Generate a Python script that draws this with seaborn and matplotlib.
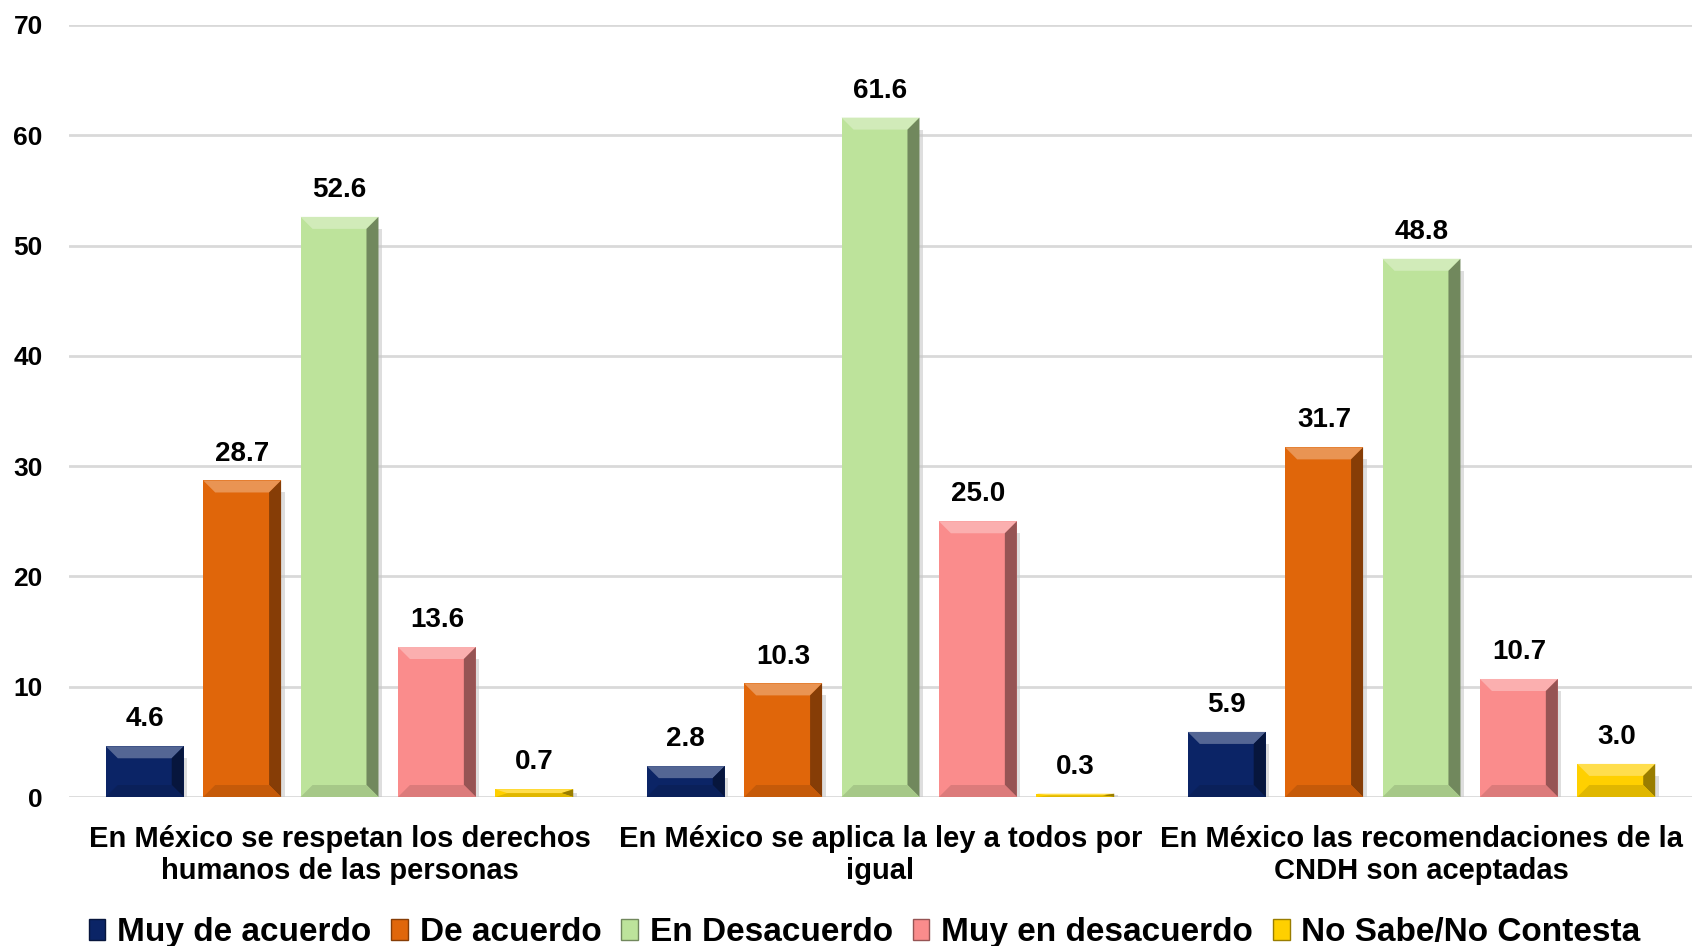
import pandas as pd
import matplotlib.pyplot as plt
import matplotlib.colors as mcolors
from matplotlib.patches import Polygon, Patch
import seaborn as sns

# ---------------------------------------------------------
# Daten
# ---------------------------------------------------------
categorias = [
    "En México se respetan los derechos\nhumanos de las personas",
    "En México se aplica la ley a todos por\nigual",
    "En México las recomendaciones de la\nCNDH son aceptadas",
]
series = ["Muy de acuerdo", "De acuerdo", "En Desacuerdo",
          "Muy en desacuerdo", "No Sabe/No Contesta"]
muy_de_acuerdo = [4.6, 2.8, 5.9]
de_acuerdo = [28.7, 10.3, 31.7]
en_desacuerdo = [52.6, 61.6, 48.8]
muy_en_desacuerdo = [13.6, 25.0, 10.7]
no_sabe = [0.7, 0.3, 3.0]
y_ticks = [0, 10, 20, 30, 40, 50, 60, 70]

colores = ["#0B2466", "#E0660A", "#BDE39B", "#FA8C8C", "#FFD000"]

valores = [muy_de_acuerdo, de_acuerdo, en_desacuerdo, muy_en_desacuerdo, no_sabe]
df = pd.DataFrame([
    {"Categoria": c, "Serie": s, "Valor": v}
    for s, vals in zip(series, valores)
    for c, v in zip(categorias, vals)
])

# ---------------------------------------------------------
# Plot
# ---------------------------------------------------------
sns.set_style("white")
plt.rcParams['font.family'] = ['Liberation Sans Narrow', 'Liberation Sans', 'DejaVu Sans']
plt.rcParams['text.color'] = 'black'
plt.rcParams['xtick.color'] = 'black'
plt.rcParams['ytick.color'] = 'black'

fig = plt.figure(figsize=(16.92, 9.46), dpi=100)
ax = fig.add_axes([0.0408, 0.1575, 0.9592, 0.8161])

sns.barplot(data=df, x="Categoria", y="Valor", hue="Serie",
            order=categorias, hue_order=series, palette=colores,
            width=0.9, gap=0.2, saturation=1, linewidth=0, ax=ax,
            errorbar=None, legend=False)

ax.set_ylim(0, 70)
ax.set_xlim(-0.5, 2.5)
ax.set_yticks(y_ticks)
ax.yaxis.grid(True, color="#D9D9D9", linewidth=2)
ax.set_axisbelow(True)
for s in ax.spines.values():
    s.set_visible(False)
ax.set_xlabel("")
ax.set_ylabel("")
ax.tick_params(axis="y", length=0, pad=19, labelsize=19, labelcolor="black")
ax.tick_params(axis="x", length=0, pad=20, labelsize=21, labelcolor="black")
for t in ax.get_yticklabels() + ax.get_xticklabels():
    t.set_fontweight("bold")

# Bevel-Effekt (wie in Excel)
fig.canvas.draw()
px_x = ax.transData.transform((1, 0))[0] - ax.transData.transform((0, 0))[0]
px_y = ax.transData.transform((0, 1))[1] - ax.transData.transform((0, 0))[1]
bev = 12
for cont, col in zip(ax.containers, colores):
    base = mcolors.to_rgb(col)
    light = tuple(min(1, c + (1 - c) * 0.3) for c in base)
    dark = tuple(c * 0.6 for c in base)
    mid_dark = tuple(c * 0.88 for c in base)
    for bar in cont:
        x0, y0 = bar.get_x(), bar.get_y()
        w, h = bar.get_width(), bar.get_height()
        dx = bev / px_x
        dy = min(bev / px_y, h / 2)
        x1, y1 = x0 + w, y0 + h
        # Schatten
        ax.add_patch(Polygon([(x0 + dx * 0.4, y0 - 0.3), (x1 + dx * 0.3, y0 - 0.3),
                              (x1 + dx * 0.3, y1 - dy), (x1, y1 - dy), (x1, y0), (x0 + dx * 0.4, y0)],
                             closed=True, color="#C8C8C8", alpha=0.6, lw=0, zorder=1.5))
        ax.add_patch(Polygon([(x0, y1), (x1, y1), (x1 - dx, y1 - dy), (x0 + dx, y1 - dy)],
                             color=light, lw=0, zorder=3))
        ax.add_patch(Polygon([(x1, y1), (x1, y0), (x1 - dx, y0 + dy), (x1 - dx, y1 - dy)],
                             color=dark, lw=0, zorder=3))
        ax.add_patch(Polygon([(x0, y0), (x1, y0), (x1 - dx, y0 + dy), (x0 + dx, y0 + dy)],
                             color=mid_dark, lw=0, zorder=3))

# Werte über den Balken
for cont in ax.containers:
    ax.bar_label(cont, fmt="%.1f", padding=10, fontsize=20, fontweight="bold", color="black")

# Legende
handles = [Patch(facecolor=c, edgecolor=tuple(v * 0.6 for v in mcolors.to_rgb(c)))
           for c in colores]
fig.legend(handles, series, loc="lower center", bbox_to_anchor=(0.511, -0.034),
           ncol=5, frameon=False, prop={"weight": "bold", "size": 24},
           handlelength=0.5, handleheight=0.6, handletextpad=0.35, columnspacing=0.6,
           labelcolor="black")

fig.savefig("out.png", dpi=100)
